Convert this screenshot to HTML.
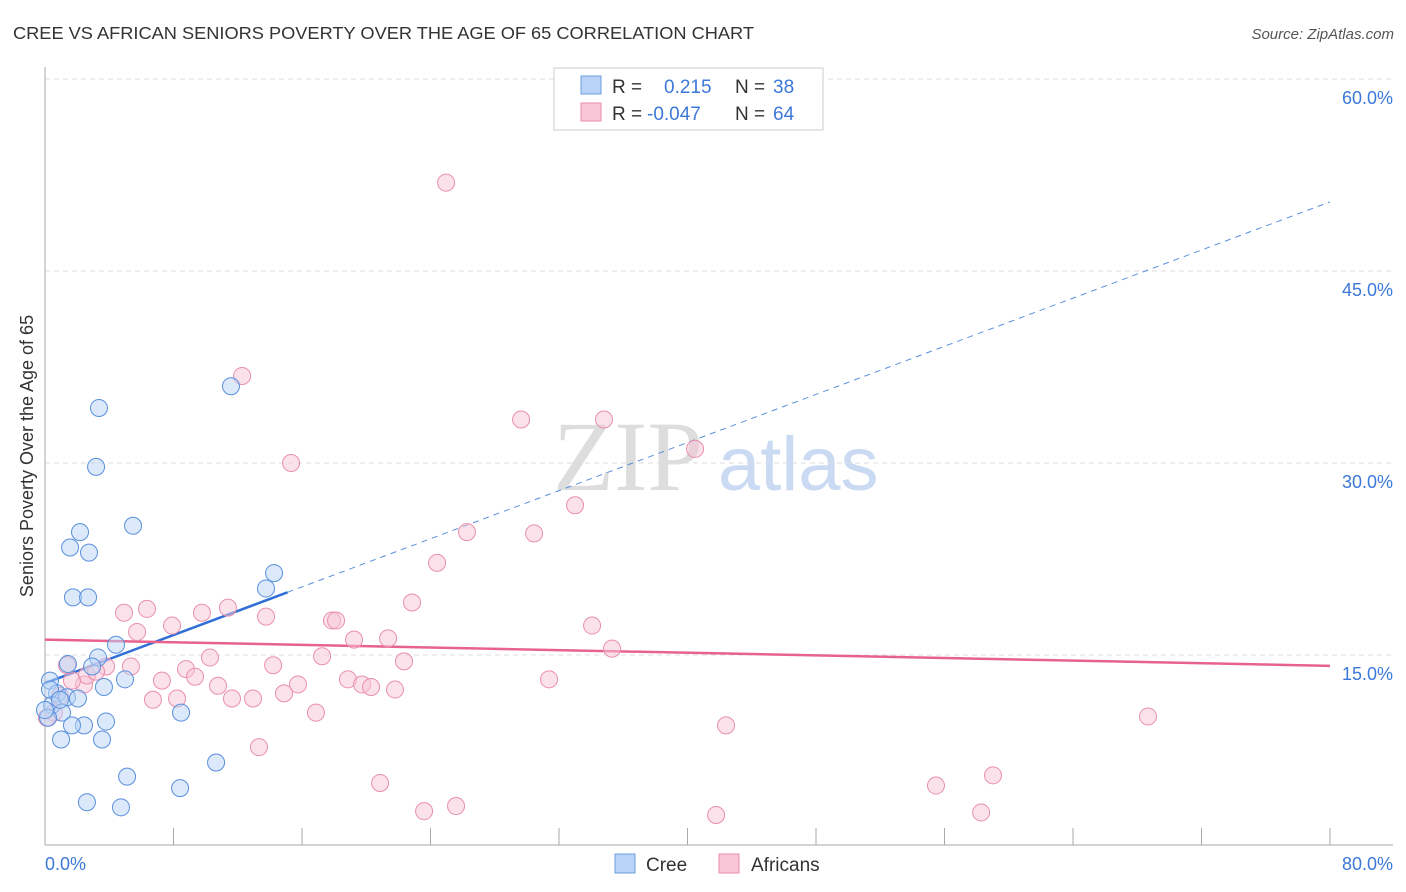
<!DOCTYPE html>
<html><head><meta charset="utf-8"><style>
body{margin:0;background:#fff;font-family:"Liberation Sans",sans-serif;}
svg{display:block}
</style></head><body>
<svg id="chart" width="1406" height="892">
<text x="13" y="39" font-size="17.5" fill="#333" textLength="741" lengthAdjust="spacingAndGlyphs">CREE VS AFRICAN SENIORS POVERTY OVER THE AGE OF 65 CORRELATION CHART</text>
<text x="1394" y="39" font-size="15" fill="#555" font-style="italic" text-anchor="end">Source: ZipAtlas.com</text>
<text transform="translate(33,456) rotate(-90)" font-size="18" fill="#333" text-anchor="middle">Seniors Poverty Over the Age of 65</text>
<g><text x="553" y="490" font-size="100" fill="#ddd" font-family="Liberation Serif,serif">ZIP</text><text x="718" y="490" font-size="76" fill="#c9daf2">atlas</text></g>
<g id="grid"></g><g id="axes"></g><g id="trend"></g><g id="pts"></g>
<g>
<rect x="554" y="68" width="269" height="62" fill="#fff" stroke="#ccc"/>
<rect x="581" y="76" width="20" height="18" fill="#b8d3f5" stroke="#6a9ee0"/>
<rect x="581" y="103" width="20" height="18" fill="#f8c6d6" stroke="#ea8fae"/>
<text x="612" y="93" font-size="19" fill="#333">R = </text><text x="664" y="93" font-size="19" fill="#3c78d8">0.215</text>
<text x="735" y="93" font-size="19" fill="#333">N = </text><text x="773" y="93" font-size="19" fill="#3c78d8">38</text>
<text x="612" y="120" font-size="19" fill="#333">R = </text><text x="647" y="120" font-size="19" fill="#3c78d8">-0.047</text>
<text x="735" y="120" font-size="19" fill="#333">N = </text><text x="773" y="120" font-size="19" fill="#3c78d8">64</text>
</g>
<g>
<rect x="615" y="854" width="20" height="19" fill="#b8d3f5" stroke="#6a9ee0"/>
<text x="646" y="871" font-size="19" fill="#333">Cree</text>
<rect x="719" y="854" width="20" height="19" fill="#f8c6d6" stroke="#ea8fae"/>
<text x="751" y="871" font-size="19" fill="#333">Africans</text>
</g>
<text x="45" y="870" font-size="18" fill="#3c78d8">0.0%</text>
<text x="1393" y="870" font-size="18" fill="#3c78d8" text-anchor="end">80.0%</text>
</svg>
<script>
const yTicks=[15,30,45,60];
const yTickLabels=["15.0%","30.0%","45.0%","60.0%"];
const creeX=[3.36,3.18,11.58,2.18,1.56,2.74,5.48,1.74,2.68,14.26,13.76,4.42,3.30,1.43,2.93,4.98,3.67,0.31,0.75,1.37,2.05,0.44,1.06,0.19,8.47,3.80,2.43,1.68,1.0,3.55,10.65,5.11,8.41,2.61,4.73,0.31,0.93,0.0];
const creeY=[34.3,29.7,36.0,24.6,23.4,23.0,25.1,19.5,19.5,21.4,20.2,15.8,14.8,14.3,14.1,13.1,12.5,13.0,12.0,11.7,11.6,11.1,10.5,10.1,10.5,9.8,9.5,9.5,8.4,8.4,6.6,5.5,4.6,3.5,3.1,12.3,11.5,10.7];
const afrX=[24.97,12.27,15.32,29.64,34.80,40.47,33.0,26.27,30.45,24.41,22.85,4.92,6.35,9.77,11.39,13.76,17.87,18.12,5.73,7.91,19.24,21.36,10.27,8.78,5.35,3.80,14.20,17.25,22.35,34.06,35.30,7.28,9.34,10.77,15.75,18.86,19.74,20.30,21.79,31.38,2.43,2.61,1.68,1.37,0.93,0.56,0.12,6.72,8.22,11.64,12.95,14.88,16.87,68.67,42.40,13.32,20.86,59.02,55.47,23.60,25.59,41.78,58.28,3.18];
const afrY=[51.9,36.8,30.0,33.4,33.4,31.1,26.7,24.6,24.5,22.2,19.1,18.3,18.6,18.3,18.7,18.0,17.7,17.7,16.8,17.3,16.2,16.3,14.8,13.9,14.1,14.1,14.2,14.9,14.5,17.3,15.5,13.0,13.3,12.6,12.7,13.1,12.7,12.5,12.3,13.1,12.7,13.4,13.0,14.2,11.8,10.5,10.1,11.5,11.6,11.6,11.6,12.0,10.5,10.2,9.5,7.8,5.0,5.6,4.8,2.8,3.2,2.5,2.7,13.7];
const creeTrend=[12.8,0.47];
const afrTrend=[16.2,-0.0256];
const creeSolidEnd=15.1;
const NS="http://www.w3.org/2000/svg";
const sx=v=>45+v*(1285/80), sy=v=>847-v*12.8;
function mk(tag,attrs,parent){const e=document.createElementNS(NS,tag);for(const k in attrs)e.setAttribute(k,attrs[k]);document.getElementById(parent).appendChild(e);return e;}
yTicks.forEach((t,i)=>{
 const l=mk('line',{x1:45,x2:1393,y1:sy(t),y2:sy(t),stroke:'#ddd','stroke-dasharray':'5,4'},'grid');
 
 
 const tx=mk('text',{x:1393,y:sy(t)+25,'font-size':18,fill:'#3c78d8','text-anchor':'end'},'grid');
 tx.textContent=yTickLabels[i];
 
 
});
mk('line',{x1:45,x2:45,y1:67,y2:845,stroke:'#aaa'},'axes');
mk('line',{x1:45,x2:1393,y1:845,y2:845,stroke:'#aaa'},'axes');
for(let v=0;v<=80;v+=8){const t=mk('line',{x1:sx(v),x2:sx(v),y1:828,y2:845,stroke:'#aaa'},'axes');
 
 }
function dots(xs,ys,fill,stroke,name){xs.forEach((x,i)=>{const c=mk('circle',{cx:sx(x),cy:sy(ys[i]),r:8.5,fill:fill,'fill-opacity':0.5,stroke:stroke,'stroke-width':1},'pts');
 
 });}
dots(afrX,afrY,'#f8c6d6','#ea8fae','africans-point');
dots(creeX,creeY,'#b8d3f5','#5a90dc','cree-point');
const cf=x=>creeTrend[0]+creeTrend[1]*x, af=x=>afrTrend[0]+afrTrend[1]*x;
const b1=mk('line',{x1:sx(0),y1:sy(cf(0)),x2:sx(creeSolidEnd),y2:sy(cf(creeSolidEnd)),stroke:'#2f6fd6','stroke-width':2.5},'trend');


const b2=mk('line',{x1:sx(creeSolidEnd),y1:sy(cf(creeSolidEnd)),x2:sx(80),y2:sy(cf(80)),stroke:'#5a90dc','stroke-width':1,'stroke-dasharray':'6,5'},'trend');


const p1=mk('line',{x1:sx(0),y1:sy(af(0)),x2:sx(80),y2:sy(af(80)),stroke:'#e8628f','stroke-width':2.5},'trend');


</script>
</body></html>
